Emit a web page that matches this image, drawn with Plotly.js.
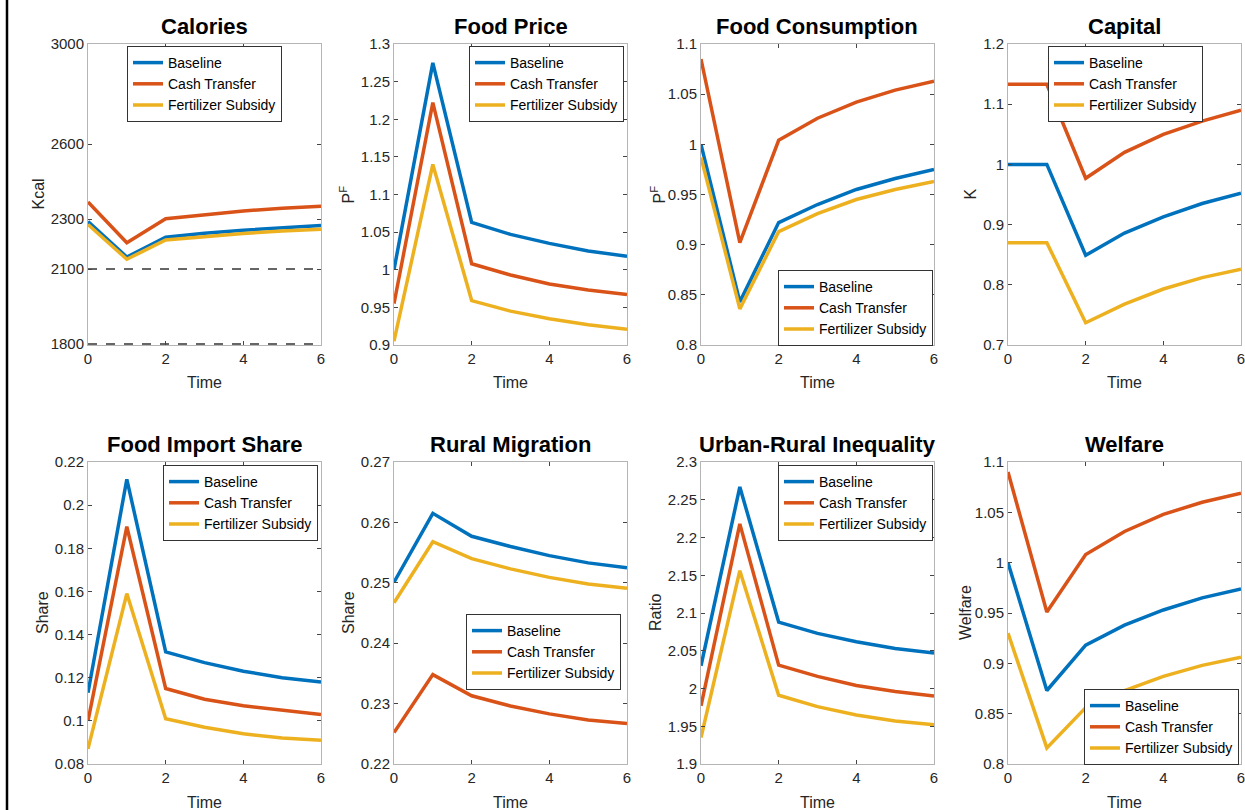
<!DOCTYPE html>
<html>
<head>
<meta charset="utf-8">
<script src="https://cdn.plot.ly/plotly-3.0.1.min.js"></script>
<style>html,body{margin:0;padding:0;background:#fff;}#chart{width:1245px;height:810px;}</style>
</head>
<body>
<div id="chart"></div>
<script>
// ---------- data ----------
const time = [0, 1, 2, 3, 4, 5, 6];
const seriesNames = ["Baseline", "Cash Transfer", "Fertilizer Subsidy"];

const panelTitles = ["Calories", "Food Price", "Food Consumption", "Capital",
                     "Food Import Share", "Rural Migration", "Urban-Rural Inequality", "Welfare"];
const yLabels = ["Kcal", "P<sup>F</sup>", "P<sup>F</sup>", "K", "Share", "Share", "Ratio", "Welfare"];
const xLabel = "Time";

const caloriesBaseline = [2290, 2148, 2227, 2243, 2255, 2265, 2274];
const caloriesCash     = [2368, 2205, 2301, 2318, 2332, 2343, 2351];
const caloriesFert     = [2278, 2139, 2216, 2230, 2242, 2252, 2259];
const calorieThresholds = [2100, 1800];

const priceBaseline = [1.000, 1.275, 1.063, 1.047, 1.035, 1.025, 1.018];
const priceCash     = [0.955, 1.222, 1.008, 0.993, 0.981, 0.973, 0.967];
const priceFert     = [0.905, 1.140, 0.959, 0.945, 0.935, 0.927, 0.921];

const consBaseline = [1.000, 0.843, 0.922, 0.940, 0.955, 0.966, 0.975];
const consCash     = [1.085, 0.902, 1.004, 1.026, 1.042, 1.054, 1.063];
const consFert     = [0.987, 0.836, 0.913, 0.931, 0.945, 0.955, 0.963];

const capBaseline = [1.000, 1.000, 0.849, 0.886, 0.913, 0.935, 0.952];
const capCash     = [1.133, 1.133, 0.977, 1.020, 1.050, 1.072, 1.090];
const capFert     = [0.870, 0.870, 0.737, 0.768, 0.793, 0.812, 0.826];

const importBaseline = [0.113, 0.212, 0.132, 0.127, 0.123, 0.120, 0.118];
const importCash     = [0.100, 0.190, 0.115, 0.110, 0.107, 0.105, 0.103];
const importFert     = [0.087, 0.159, 0.101, 0.097, 0.094, 0.092, 0.091];

const migBaseline = [0.2501, 0.2615, 0.2577, 0.2560, 0.2545, 0.2533, 0.2525];
const migCash     = [0.2252, 0.2348, 0.2313, 0.2296, 0.2283, 0.2273, 0.2267];
const migFert     = [0.2467, 0.2568, 0.2540, 0.2523, 0.2509, 0.2498, 0.2491];

const ineqBaseline = [2.030, 2.267, 2.088, 2.073, 2.062, 2.053, 2.047];
const ineqCash     = [1.977, 2.218, 2.031, 2.016, 2.004, 1.996, 1.990];
const ineqFert     = [1.935, 2.156, 1.991, 1.976, 1.965, 1.957, 1.952];

const welfBaseline = [1.000, 0.873, 0.918, 0.938, 0.953, 0.965, 0.974];
const welfCash     = [1.090, 0.951, 1.008, 1.031, 1.048, 1.060, 1.069];
const welfFert     = [0.930, 0.816, 0.856, 0.873, 0.887, 0.898, 0.906];

const yRanges = [[1796, 3000], [0.9, 1.3], [0.8, 1.1], [0.7, 1.2],
                 [0.08, 0.22], [0.22, 0.27], [1.9, 2.3], [0.8, 1.1]];
const yTickVals = [
  [1800, 2100, 2300, 2600, 3000],
  [0.9, 0.95, 1, 1.05, 1.1, 1.15, 1.2, 1.25, 1.3],
  [0.8, 0.85, 0.9, 0.95, 1, 1.05, 1.1],
  [0.7, 0.8, 0.9, 1, 1.1, 1.2],
  [0.08, 0.1, 0.12, 0.14, 0.16, 0.18, 0.2, 0.22],
  [0.22, 0.23, 0.24, 0.25, 0.26, 0.27],
  [1.9, 1.95, 2, 2.05, 2.1, 2.15, 2.2, 2.25, 2.3],
  [0.8, 0.85, 0.9, 0.95, 1, 1.05, 1.1]
];
const xTickVals = [0, 2, 4, 6];

const panelData = [
  [caloriesBaseline, caloriesCash, caloriesFert],
  [priceBaseline, priceCash, priceFert],
  [consBaseline, consCash, consFert],
  [capBaseline, capCash, capFert],
  [importBaseline, importCash, importFert],
  [migBaseline, migCash, migFert],
  [ineqBaseline, ineqCash, ineqFert],
  [welfBaseline, welfCash, welfFert]
];

// ---------- layout geometry (pixels) ----------
const W = 1245, H = 810;
const colL = [88, 394, 701, 1008], colR = [321, 627, 934, 1241];
const rowT = [44, 462], rowB = [345, 764];
const legendPos = [[127, 46], [469, 46], [778, 270], [1048, 46],
                   [163, 465], [466, 614], [778, 465], [1084, 689]];
const colors = ["#0072BD", "#D95319", "#EDB120"];
const FONT = "Liberation Sans, Arial, sans-serif";

const traces = [];
const layout = {
  width: W, height: H,
  margin: {l: 0, r: 0, t: 0, b: 0},
  paper_bgcolor: "#ffffff", plot_bgcolor: "#ffffff",
  font: {family: FONT, color: "#262626"},
  annotations: [], shapes: []
};

for (let p = 0; p < 8; p++) {
  const c = p % 4, r = Math.floor(p / 4);
  const sfx = p === 0 ? "" : String(p + 1);
  const xa = "x" + sfx, ya = "y" + sfx;
  const lg = "legend" + sfx;

  if (p === 0) {
    calorieThresholds.forEach(v => {
      traces.push({x: [time[0], time[time.length - 1]], y: [v, v], xaxis: xa, yaxis: ya,
        mode: "lines", line: {color: "#666666", width: 2, dash: "dash"},
        showlegend: false, hoverinfo: "skip"});
    });
  }
  panelData[p].forEach((ys, k) => {
    traces.push({x: time, y: ys, xaxis: xa, yaxis: ya, name: seriesNames[k],
      mode: "lines", line: {color: colors[k], width: 3.5}, legend: lg, showlegend: true});
  });

  layout["xaxis" + sfx] = {
    domain: [colL[c] / W, colR[c] / W], anchor: ya, range: [0, 6],
    tickvals: xTickVals, ticks: "inside", ticklen: 4, tickcolor: "#444",
    showline: true, mirror: "ticks", linecolor: "#b5b5b5", linewidth: 1,
    showgrid: false, zeroline: false, fixedrange: true, ticklabeloverflow: "allow",
    tickfont: {family: FONT, size: 15, color: "#262626"}
  };
  layout["yaxis" + sfx] = {
    domain: [1 - rowB[r] / H, 1 - rowT[r] / H], anchor: xa, range: yRanges[p],
    tickvals: yTickVals[p], ticks: "inside", ticklen: 4, tickcolor: "#444",
    showline: true, mirror: "ticks", linecolor: "#b5b5b5", linewidth: 1,
    showgrid: false, zeroline: false, fixedrange: true, ticklabeloverflow: "allow",
    tickfont: {family: FONT, size: 15, color: "#262626"}
  };
  layout[lg] = {
    x: legendPos[p][0] / W, y: 1 - legendPos[p][1] / H, xanchor: "left", yanchor: "top",
    xref: "paper", yref: "paper",
    bgcolor: "#ffffff", bordercolor: "#333333", borderwidth: 1,
    font: {family: FONT, size: 14, color: "#000000"}, tracegroupgap: 0, itemwidth: 30
  };

  const cx = (colL[c] + colR[c]) / 2 / W;
  const cy = 1 - (rowT[r] + rowB[r]) / 2 / H;
  layout.annotations.push({
    text: panelTitles[p], xref: "paper", yref: "paper", x: cx, y: 1 - (rowT[r] - 18) / H,
    xanchor: "center", yanchor: "middle", showarrow: false,
    font: {family: FONT, size: 22, color: "#000000", weight: "bold"}
  });
  layout.annotations.push({
    text: xLabel, xref: "paper", yref: "paper", x: cx, y: 1 - (rowB[r] + 38) / H,
    xanchor: "center", yanchor: "middle", showarrow: false,
    font: {family: FONT, size: 16, color: "#262626"}
  });
  const yLabX = [[38, 347, 658, 970], [42, 348, 655, 965]][r][c];
  layout.annotations.push({
    text: yLabels[p], xref: "paper", yref: "paper", x: yLabX / W, y: cy,
    xanchor: "center", yanchor: "middle", showarrow: false, textangle: -90,
    font: {family: FONT, size: 16, color: "#262626"}
  });
}

// thin black frame line on the left edge of the figure
layout.shapes.push({type: "line", xref: "paper", yref: "paper", x0: 7 / W, x1: 7 / W, y0: 0, y1: 1,
  line: {color: "#000000", width: 2.5}});

Plotly.newPlot("chart", traces, layout, {displayModeBar: false, staticPlot: true});
</script>
</body>
</html>
